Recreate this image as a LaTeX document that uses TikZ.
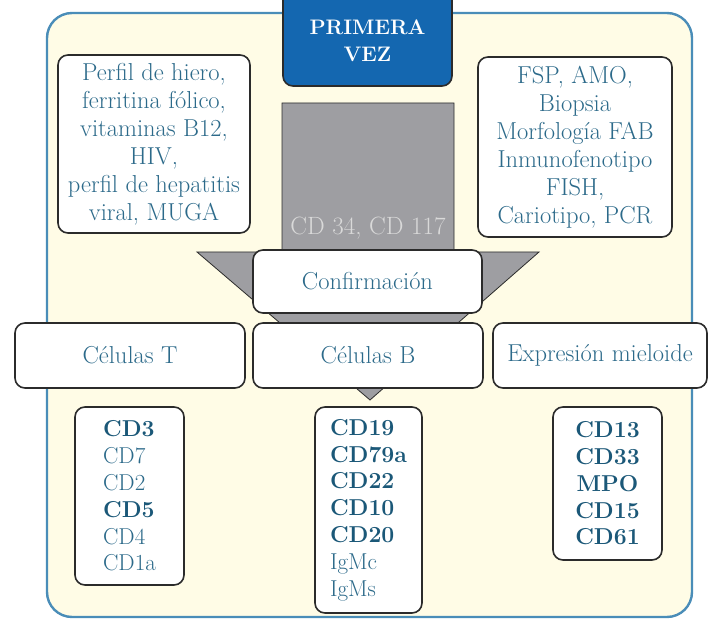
\documentclass[tikz,border=0pt]{standalone}
\usepackage{fontspec}
\usepackage{tikz}
\definecolor{frameblue}{HTML}{4A8DB8}
\definecolor{cream}{HTML}{FFFCE6}
\definecolor{txtblue}{HTML}{2C6A8A}
\definecolor{boldblue}{HTML}{1B5878}
\definecolor{headblue}{HTML}{1467B0}
\definecolor{arrowgrey}{HTML}{9E9EA2}
\definecolor{edgegrey}{HTML}{2B2B2B}
\tikzset{
  box/.style={draw=edgegrey, line width=1.6pt, fill=white, rounded corners=10pt,
    text=txtblue, align=center, inner sep=0pt, font=\fontsize{24.5}{28}\selectfont},
  listbox/.style={box, font=\fontsize{23}{26.8}\selectfont},
}
\def\bb#1{\textbf{\textcolor{boldblue}{#1}}}

\begin{document}
\begin{tikzpicture}[x=1pt, y=-1pt]
			%%%%% START %%%%%
			\useasboundingbox (0, 0) rectangle (710, 628);
			
			\draw[line width=2.4pt, draw=frameblue, fill=cream, rounded corners=25pt] (47, 13) rectangle (692, 617);
			
			\draw[line width=1.6pt, draw=edgegrey, fill=headblue, rounded corners=10pt] (283, -30) rectangle (452, 86);
			\node[text=white, align=center, font=\fontsize{21}{27}\selectfont\bfseries] (primera) at (367.5, 41) {PRIMERA\\VEZ};
			
			\node[box, minimum width=192pt, minimum height=178pt] (examenes) at (154, 144) {Perfil de hiero,\\ferritina fólico,\\vitaminas B12,\\HIV,\\perfil de hepatitis\\viral, MUGA};
			\node[box, minimum width=194pt, minimum height=180pt] (medula) at (575, 147) {FSP, AMO,\\Biopsia\\Morfología FAB\\Inmunofenotipo\\FISH,\\Cariotipo, PCR};
			
			% flecha gris
			\draw[line width=0.8pt, draw=edgegrey, fill=arrowgrey] (282, 103) -- (454, 103) -- (454, 252) -- (539, 252) -- (370, 400) -- (197, 252) -- (282, 252) -- cycle;
			\node[text=white!85!black, font=\fontsize{25}{28}\selectfont] (cd34) at (368, 228) {CD 34, CD 117};
			
			\node[box, minimum width=229pt, minimum height=63pt] (confirma) at (367.5, 281.5) {Confirmación};
			
			\node[box, minimum width=230pt, minimum height=65pt] (celT) at (130, 355.5) {Células T};
			\node[box, minimum width=230pt, minimum height=65pt] (celB) at (368, 355.5) {Células B};
			\node[box, minimum width=214pt, minimum height=65pt] (celM) at (600, 355.5) {Expresión mieloide};
			
			\node[listbox, align=left, minimum width=109pt, minimum height=178pt] (listT) at (129.5, 496) {\bb{CD3}\\CD7\\CD2\\\bb{CD5}\\CD4\\CD1a};
			\node[listbox, align=left, minimum width=107pt, minimum height=206pt] (listB) at (368.5, 510) {\bb{CD19}\\\bb{CD79a}\\\bb{CD22}\\\bb{CD10}\\\bb{CD20}\\IgMc\\IgMs};
			\node[listbox, minimum width=109pt, minimum height=153pt] (listM) at (607.5, 483.5) {\bb{CD13}\\\bb{CD33}\\\bb{MPO}\\\bb{CD15}\\\bb{CD61}};
			
			%%%%% END %%%%%
		\end{tikzpicture}
\end{document}
